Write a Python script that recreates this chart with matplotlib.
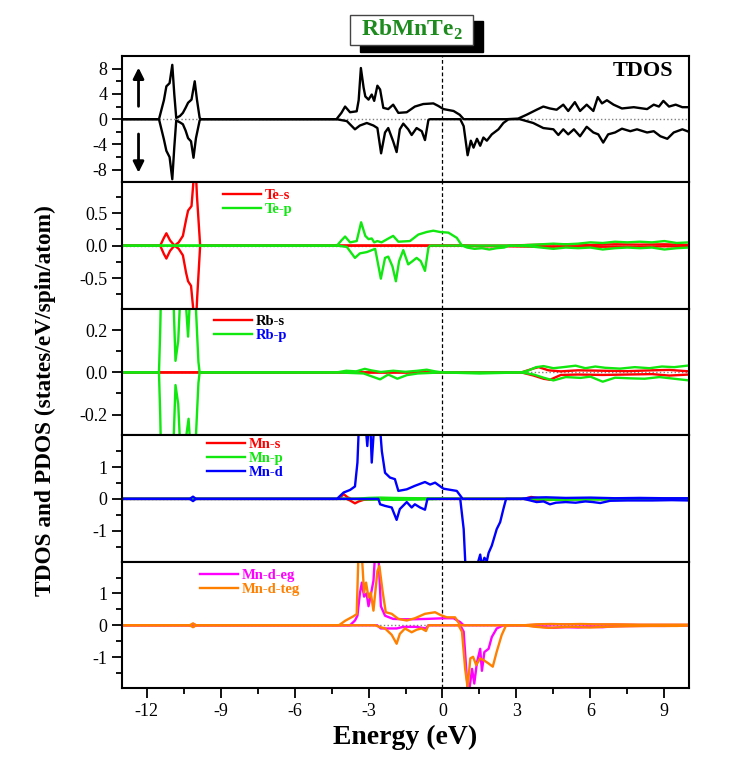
import matplotlib
matplotlib.use('Agg')
import matplotlib.pyplot as plt
from matplotlib.patches import Rectangle
from matplotlib.ticker import FormatStrFormatter

plt.rcParams['font.family'] = ['Liberation Serif', 'DejaVu Serif']
plt.rcParams['axes.unicode_minus'] = False
plt.rcParams['mathtext.fontset'] = 'custom'
plt.rcParams['mathtext.rm'] = 'Liberation Serif'
plt.rcParams['mathtext.bf'] = 'Liberation Serif:bold'

# ---- data (energy in eV, DOS in states/eV/spin/atom) ----
# TDOS
tdos_up_e = [-13, -11.5, -11.3, -11.2, -11.07, -10.96, -10.88, -10.8, -10.65, -10.53, -10.42, -10.32,
             -10.18, -10.05, -9.96, -9.85, -9.8, -4.3, -4.1, -3.95, -3.75, -3.48, -3.4, -3.31, -3.2,
             -3.13, -3.0, -2.87, -2.77, -2.64, -2.53, -2.4, -2.2, -2.0, -1.79, -1.45, -1.12, -0.78,
             -0.37, -0.17, 0.04, 0.45, 0.7, 0.86, 2.6, 3.07, 3.41, 3.82, 4.09, 4.36, 4.63, 4.9, 5.1,
             5.37, 5.58, 5.85, 6.12, 6.3, 6.47, 6.67, 6.94, 7.28, 7.76, 8.3, 8.57, 8.78, 8.96, 9.19,
             9.46, 9.73, 10.0]
tdos_up_v = [0, 0, 3.0, 5.2, 5.7, 8.6, 4.0, 0.2, 0.5, 1.0, 1.8, 2.6,
             3.1, 6.0, 3.1, 0.2, 0, 0, 1.0, 2.0, 1.1, 1.25, 3.0, 8.1, 5.0,
             3.6, 3.1, 3.9, 2.9, 5.3, 4.7, 1.8, 1.6, 2.3, 1.0, 1.1, 2.0, 2.4,
             2.5, 2.1, 1.6, 1.3, 0.7, 0, 0, 0.1, 0.7, 1.5, 2.0, 1.7, 1.5, 2.3, 1.3,
             2.7, 1.3, 2.3, 1.3, 3.5, 2.5, 3.0, 2.3, 1.7, 1.9, 1.6, 2.3, 2.0, 2.9, 2.0,
             2.3, 1.9, 1.9]
tdos_dn_e = [-13, -11.5, -11.3, -11.2, -11.07, -10.96, -10.88, -10.8, -10.65, -10.53, -10.42, -10.32,
             -10.2, -10.1, -10.0, -9.85, -9.8, -4.3, -3.88, -3.55, -3.35, -3.07, -2.8, -2.64, -2.49,
             -2.33, -2.2, -2.0, -1.86, -1.73, -1.59, -1.39, -1.25, -1.05, -0.84, -0.71, -0.57, -0.5,
             0.72, 0.86, 1.02, 1.15, 1.26, 1.4, 1.53, 1.66, 1.8, 2.0, 2.27, 2.47, 2.68, 3.14, 3.68,
             4.09, 4.5, 4.7, 4.9, 5.1, 5.33, 5.58, 5.85, 6.12, 6.32, 6.52, 6.72, 7.0, 7.28, 7.62,
             7.89, 8.3, 8.57, 8.84, 9.12, 9.38, 9.73, 10.0]
tdos_dn_v = [0, 0, -3.2, -5.0, -6.0, -9.5, -4.5, -0.2, -0.5, -0.8, -1.8, -3.0,
             -3.5, -6.1, -3.0, -0.2, 0, 0, -0.3, -1.6, -1.0, -0.6, -1.0, -1.4, -5.4,
             -2.1, -1.4, -3.5, -5.2, -1.6, -0.7, -1.6, -2.5, -1.4, -1.9, -3.3, -0.1, 0,
             0, -1.1, -5.7, -3.4, -4.5, -3.1, -4.2, -2.9, -3.4, -2.4, -1.6, -0.6, 0, 0, -0.6,
             -1.4, -1.6, -2.5, -1.6, -2.4, -1.6, -2.7, -1.2, -2.1, -2.4, -3.7, -2.4, -2.1, -1.5, -1.9,
             -1.6, -2.1, -1.9, -2.7, -3.1, -2.1, -1.6, -2.0]

# Te
te_s_up_e = [-13, -11.45, -11.3, -11.2, -11.05, -10.87, -10.7, -10.53, -10.4, -10.32, -10.18, -10.1,
             -10.03, -9.96, -9.83, 2.6, 3.5, 4.3, 5.0, 6.0, 7.0, 8.0, 9.0, 10.0]
te_s_up_v = [0, 0, 0.12, 0.19, 0.08, 0, 0.05, 0.15, 0.4, 0.54, 0.61, 1.0,
             1.35, 0.77, 0, 0, 0.01, 0.015, 0.02, 0.01, 0.02, 0.015, 0.02, 0.01]
te_s_dn_e = [-13, -11.45, -11.3, -11.2, -11.05, -10.87, -10.7, -10.53, -10.4, -10.32, -10.2, -10.08,
             -10.02, -9.95, -9.83, 0.8, 1.5, 2.4, 3.5, 4.3, 5.0, 6.0, 7.0, 8.0, 9.0, 10.0]
te_s_dn_v = [0, 0, -0.13, -0.2, -0.08, 0, -0.05, -0.15, -0.42, -0.55, -0.62, -1.1,
             -1.35, -0.8, 0, 0, -0.01, -0.01, -0.015, -0.02, -0.01, -0.02, -0.015, -0.02, -0.01, -0.015]
te_p_up_e = [-13, -4.28, -4.1, -3.95, -3.75, -3.48, -3.3, -3.13, -3.0, -2.87, -2.77, -2.64, -2.47,
             -2.24, -2.0, -1.79, -1.32, -0.98, -0.64, -0.37, -0.1, 0.24, 0.58, 0.79, 3.0, 3.5, 4.0,
             4.5, 5.0, 5.5, 6.0, 6.5, 7.0, 7.5, 8.0, 8.5, 9.0, 9.5, 10.0]
te_p_up_v = [0, 0, 0.08, 0.14, 0.05, 0.07, 0.36, 0.15, 0.1, 0.11, 0.05, 0.07, 0.05,
             0.1, 0.15, 0.06, 0.07, 0.17, 0.21, 0.23, 0.21, 0.2, 0.12, 0, 0, 0.01, 0.02,
             0.03, 0.02, 0.03, 0.05, 0.04, 0.06, 0.05, 0.06, 0.05, 0.07, 0.04, 0.05]
te_p_dn_e = [-13, -4.28, -3.88, -3.55, -3.35, -3.07, -2.73, -2.5, -2.33, -2.2, -2.03, -1.89, -1.76,
             -1.59, -1.39, -1.25, -1.05, -0.88, -0.71, -0.57, -0.5, 0.8, 1.0, 1.3, 1.6, 1.9, 2.2,
             2.5, 2.7, 3.5, 4.0, 4.5, 5.0, 5.5, 6.0, 6.5, 7.0, 7.5, 8.0, 8.5, 9.0, 9.5, 10.0]
te_p_dn_v = [0, 0, -0.02, -0.19, -0.12, -0.1, -0.05, -0.51, -0.19, -0.17, -0.32, -0.55, -0.24,
             -0.07, -0.29, -0.25, -0.19, -0.24, -0.39, -0.03, 0, 0, -0.03, -0.05, -0.04, -0.06, -0.04,
             -0.03, 0, -0.01, -0.03, -0.05, -0.03, -0.04, -0.03, -0.06, -0.04, -0.03, -0.04, -0.03,
             -0.06, -0.04, -0.03]

# Rb
rb_s_up_e = [-13, 3.2, 3.7, 3.9, 4.3, 4.8, 5.5, 6.5, 7.5, 8.5, 9.2, 10.0]
rb_s_up_v = [0, 0, 0.019, 0.025, 0.01, 0.005, 0.01, 0.008, 0.006, 0.01, 0.012, 0.005]
rb_s_dn_e = [-13, 3.2, 3.7, 4.1, 4.36, 4.8, 5.5, 6.5, 7.5, 8.5, 9.2, 10.0]
rb_s_dn_v = [0, 0, -0.015, -0.03, -0.035, -0.012, -0.01, -0.012, -0.01, -0.008, -0.015, -0.01]
rb_p_up_e = [-13, -11.5, -11.45, -11.38, -11.2, -11.0, -10.9, -10.83, -10.72, -10.6, -10.45, -10.32,
             -10.22, -10.1, -10.0, -9.9, -9.85, -4.3, -3.9, -3.5, -3.15, -2.9, -2.5, -2.0, -1.5,
             -1.0, -0.64, -0.3, 0, 3.2, 3.5, 3.8, 4.1, 4.5, 4.9, 5.4, 5.8, 6.2, 6.6, 7.2, 7.8,
             8.4, 8.9, 9.4, 10.0]
rb_p_up_v = [0, 0, 0.2, 0.6, 0.9, 0.75, 0.3, 0.055, 0.15, 0.45, 0.4, 0.17,
             0.4, 0.55, 0.3, 0.05, 0, 0, 0.008, 0.005, 0.017, 0.01, 0.002, 0.008, 0.003,
             0.008, 0.013, 0.005, 0, 0, 0.01, 0.025, 0.03, 0.02, 0.025, 0.032, 0.02, 0.028, 0.022,
             0.018, 0.025, 0.02, 0.028, 0.025, 0.033]
rb_p_dn_e = [-13, -11.5, -11.45, -11.38, -11.2, -11.0, -10.9, -10.83, -10.72, -10.6, -10.45, -10.3,
             -10.2, -10.1, -10.0, -9.9, -9.85, -4.3, -3.2, -2.53, -2.2, -1.83, -1.45, -1.0, 0,
             1.5, 3.2, 3.7, 4.1, 4.5, 5.0, 5.6, 6.0, 6.5, 7.0, 7.6, 8.2, 8.8, 9.4, 10.0]
rb_p_dn_v = [0, 0, -0.2, -0.6, -0.9, -0.75, -0.3, -0.06, -0.15, -0.45, -0.35, -0.22,
             -0.4, -0.55, -0.3, -0.05, 0, 0, -0.005, -0.033, -0.01, -0.03, -0.013, -0.005, 0,
             -0.005, 0, -0.01, -0.025, -0.038, -0.022, -0.026, -0.02, -0.044, -0.025, -0.028, -0.03,
             -0.022, -0.03, -0.038]

# Mn s, p, d
mn_s_up_e = [-13, -10.2, -10.1, -10.0, -4.2, -4.01, -3.85, -3.7, 3.3, 3.6, 3.9, 4.5, 10.0]
mn_s_up_v = [0, 0, 0.02, 0, 0, 0.15, 0.05, 0, 0, 0.06, 0.02, 0.01, 0]
mn_s_dn_e = [-13, -3.9, -3.75, -3.55, -3.4, -3.2, -2.9, -2.5, 3.3, 3.8, 4.5, 5.5, 10.0]
mn_s_dn_v = [0, 0, -0.05, -0.14, -0.08, -0.03, -0.02, 0, 0, -0.05, -0.03, -0.01, 0]
mn_p_up_e = [-13, -3.6, -3.0, -2.5, -2.0, -1.0, 0.0, 0.8, 3.5, 4.5, 6.0, 10.0]
mn_p_up_v = [0, 0, 0.03, 0.04, 0.03, 0.02, 0.01, 0, 0, 0.02, 0.02, 0.01]
mn_p_dn_e = [-13, -3.6, -3.0, -2.0, -1.0, 0.0, 3.5, 4.5, 6.0, 10.0]
mn_p_dn_v = [0, 0, -0.02, -0.03, -0.02, 0, 0, -0.03, -0.02, -0.01]
mn_d_up_e = [-13, -10.25, -10.12, -10.0, -4.28, -4.01, -3.75, -3.55, -3.45, -3.38, -3.3, -3.15,
             -3.05, -2.95, -2.87, -2.78, -2.7, -2.55, -2.46, -2.33, -2.13, -1.93, -1.79, -1.45,
             -1.12, -0.71, -0.5, -0.3, 0.04, 0.58, 0.82, 3.2, 3.6, 4.2, 5.0, 6.0, 7.0, 8.0, 9.0, 10.0]
mn_d_up_v = [0, 0, 0.07, 0, 0, 0.2, 0.28, 0.39, 1.14, 2.5, 4.0, 2.6,
             1.66, 2.8, 1.14, 2.2, 3.0, 2.4, 1.5, 0.82, 0.67, 0.62, 0.25, 0.3,
             0.41, 0.53, 0.45, 0.51, 0.32, 0.25, 0, 0, 0.04, 0.05, 0.03, 0.04, 0.02, 0.03, 0.02, 0.02]
mn_d_dn_e = [-13, -10.25, -10.12, -10.0, -2.6, -2.53, -2.33, -2.06, -1.86, -1.73, -1.45, -1.25,
             -1.12, -0.91, -0.71, -0.61, 0.72, 0.86, 0.95, 1.05, 1.15, 1.27, 1.4, 1.53, 1.6, 1.7,
             1.8, 1.87, 2.0, 2.2, 2.34, 2.47, 2.58, 3.3, 3.82, 4.1, 4.36, 4.6, 5.0, 5.4, 5.8, 6.1,
             6.4, 6.8, 7.5, 8.5, 9.3, 10.0]
mn_d_dn_v = [0, 0, -0.07, 0, 0, -0.17, -0.22, -0.27, -0.66, -0.32, -0.1, -0.27,
             -0.17, -0.27, -0.34, 0, 0, -0.95, -2.4, -2.8, -2.2, -2.6, -2.1, -1.75, -2.1, -1.85,
             -1.95, -1.7, -1.47, -0.95, -0.73, -0.32, 0, 0, -0.1, -0.08, -0.17, -0.12, -0.1, -0.12,
             -0.08, -0.1, -0.13, -0.06, -0.05, -0.05, -0.04, -0.05]

# Mn d -> eg / t2g
eg_up_e = [-13, -10.2, -10.1, -10.0, -3.75, -3.55, -3.45, -3.35, -3.27, -3.18, -3.08, -3.0, -2.92,
           -2.8, -2.72, -2.6, -2.5, -2.33, -2.0, -1.59, -1.1, -0.64, 0.04, 0.45, 0.72, 0.86, 3.3,
           4.0, 5.0, 6.0, 7.0, 8.0, 9.0, 10.0]
eg_up_v = [0, 0, 0.04, 0, 0, 0.15, 0.3, 1.0, 1.34, 0.9, 1.0, 0.6, 0.9,
           1.4, 2.4, 2.2, 0.6, 0.3, 0.2, 0.19, 0.19, 0.2, 0.22, 0.22, 0.1, 0, 0,
           0.02, 0.03, 0.02, 0.02, 0.01, 0.01, 0.01]
eg_dn_e = [-13, -10.2, -10.1, -10.0, -2.65, -2.5, -1.86, -1.59, -1.05, -0.67, -0.57, 0.72, 0.86,
           0.99, 1.06, 1.2, 1.29, 1.4, 1.53, 1.6, 1.7, 1.87, 2.0, 2.2, 2.47, 3.3, 4.0, 4.5, 5.0,
           5.5, 6.0, 6.5, 7.0, 8.0, 9.0, 10.0]
eg_dn_v = [0, 0, -0.04, 0, 0, -0.1, -0.1, -0.05, -0.05, -0.1, 0, 0, -0.2,
           -1.68, -2.2, -1.37, -1.83, -1.16, -0.74, -1.43, -0.84, -0.74, -0.37, -0.1, 0, 0, -0.05,
           -0.08, -0.06, -0.07, -0.05, -0.06, -0.03, -0.02, -0.02, -0.01]
t2g_up_e = [-13, -10.25, -10.12, -10.0, -4.2, -3.95, -3.62, -3.48, -3.41, -3.35, -3.28, -3.18,
            -3.1, -3.0, -2.91, -2.8, -2.64, -2.56, -2.43, -2.3, -2.06, -1.79, -1.45, -1.12, -0.71,
            -0.3, -0.1, 0.17, 0.51, 0.72, 3.3, 3.8, 4.4, 5.0, 5.6, 6.2, 7.0, 8.0, 9.0, 10.0]
t2g_up_v = [0, 0, 0.06, 0, 0, 0.14, 0.28, 0.35, 2.2, 3.0, 2.3, 1.03,
            1.34, 0.87, 1.03, 0.46, 1.7, 1.86, 1.07, 0.41, 0.36, 0.2, 0.15, 0.22, 0.36,
            0.41, 0.33, 0.25, 0.25, 0, 0, 0.03, 0.04, 0.03, 0.04, 0.03, 0.03, 0.02, 0.02, 0.02]
t2g_dn_e = [-13, -10.25, -10.12, -10.0, -2.73, -2.56, -2.33, -2.06, -1.86, -1.73, -1.52, -1.25,
            -1.05, -0.85, -0.67, -0.57, 0.65, 0.79, 0.92, 1.02, 1.13, 1.24, 1.37, 1.53, 1.66, 1.87,
            2.04, 2.2, 2.4, 2.58, 3.3, 3.8, 4.3, 4.8, 5.3, 6.0, 6.5, 7.5, 8.5, 9.5, 10.0]
t2g_dn_v = [0, 0, -0.06, 0, 0, -0.05, -0.1, -0.3, -0.58, -0.27, -0.1, -0.22,
            -0.14, -0.1, -0.18, 0, 0, -0.2, -1.37, -1.95, -1.04, -0.99, -1.25, -1.04, -1.09, -1.2,
            -1.3, -0.83, -0.31, 0, 0, -0.05, -0.08, -0.06, -0.05, -0.07, -0.05, -0.03, -0.02, -0.02,
            -0.01]

RED = '#FF0000'
GREEN = '#10E810'
BLUE = '#0000FF'
MAGENTA = '#FF00FF'
ORANGE = '#FF8000'

# (curves, legend text colours, ylim, major ticks, minor ticks, fmt)
panels = [
    ([(tdos_up_e, tdos_up_v, 'black', None), (tdos_dn_e, tdos_dn_v, 'black', None)],
     None, (-10, 10), [-8, -4, 0, 4, 8], [-6, -2, 2, 6], '%d'),
    ([(te_s_up_e, te_s_up_v, RED, 'Te-s'), (te_s_dn_e, te_s_dn_v, RED, None),
      (te_p_up_e, te_p_up_v, GREEN, 'Te-p'), (te_p_dn_e, te_p_dn_v, GREEN, None)],
     [RED, GREEN], (-0.975, 0.975), [-0.5, 0, 0.5], [-0.75, -0.25, 0.25, 0.75], '%.1f'),
    ([(rb_s_up_e, rb_s_up_v, RED, 'Rb-s'), (rb_s_dn_e, rb_s_dn_v, RED, None),
      (rb_p_up_e, rb_p_up_v, GREEN, 'Rb-p'), (rb_p_dn_e, rb_p_dn_v, GREEN, None)],
     ['black', BLUE], (-0.298, 0.302), [-0.2, 0, 0.2], [-0.1, 0.1], '%.1f'),
    ([(mn_s_up_e, mn_s_up_v, RED, 'Mn-s'), (mn_s_dn_e, mn_s_dn_v, RED, None),
      (mn_p_up_e, mn_p_up_v, GREEN, 'Mn-p'), (mn_p_dn_e, mn_p_dn_v, GREEN, None),
      (mn_d_up_e, mn_d_up_v, BLUE, 'Mn-d'), (mn_d_dn_e, mn_d_dn_v, BLUE, None)],
     [RED, GREEN, BLUE], (-1.97, 2.0), [-1, 0, 1], [-1.5, -0.5, 0.5, 1.5], '%d'),
    ([(eg_up_e, eg_up_v, MAGENTA, 'Mn-d-eg'), (eg_dn_e, eg_dn_v, MAGENTA, None),
      (t2g_up_e, t2g_up_v, ORANGE, 'Mn-d-teg'), (t2g_dn_e, t2g_dn_v, ORANGE, None)],
     [MAGENTA, ORANGE], (-1.97, 2.0), [-1, 0, 1], [-1.5, -0.5, 0.5, 1.5], '%d'),
]
legend_anchor = [None, (0.178, 0.95), (0.162, 0.955), (0.150, 0.98), (0.138, 0.945)]

fig = plt.figure(figsize=(7.5, 7.58), dpi=100)
W, H = 750.0, 758.0
top_px, panel_px = 56.0, 126.4

axes = []
for i, (curves, lcolors, ylim, major, minor, fmt) in enumerate(panels):
    bottom = (H - top_px - (i + 1) * panel_px) / H
    ax = fig.add_axes([122 / W, bottom, 567 / W, panel_px / H])
    axes.append(ax)

    ax.axhline(0, color='gray', ls=':', lw=1.0, zorder=1)
    ax.axvline(0, color='black', ls=(0, (3, 2)), lw=0.9, zorder=1)
    for e, v, c, lab in curves:
        ax.plot(e, v, color=c, lw=1.7, label=lab, zorder=2, solid_joinstyle='round')

    ax.set_xlim(-13, 10)
    ax.set_ylim(*ylim)
    ax.set_yticks(major)
    ax.set_yticks(minor, minor=True)
    ax.yaxis.set_major_formatter(FormatStrFormatter(fmt))
    ax.set_xticks(range(-12, 10, 3))
    ax.set_xticks([-10.5, -7.5, -4.5, -1.5, 1.5, 4.5, 7.5], minor=True)
    ax.tick_params(which='both', direction='out', top=False, right=False, labelsize=13, width=1.3)
    ax.tick_params(which='major', length=7)
    ax.tick_params(which='minor', length=4)
    if i < 4:
        ax.tick_params(which='both', bottom=False, labelbottom=False)
    for sp in ax.spines.values():
        sp.set_linewidth(1.5)

    if lcolors:
        leg = ax.legend(loc='upper left', bbox_to_anchor=legend_anchor[i], frameon=False,
                        prop={'weight': 'bold', 'size': 10.5}, handlelength=2.6,
                        handletextpad=0.25, labelspacing=0.05, borderpad=0, borderaxespad=0)
        for t, c in zip(leg.get_texts(), lcolors):
            t.set_color(c)

# spin arrows and TDOS label
ax0 = axes[0]
ax0.annotate('', xy=(-12.33, 8.6), xytext=(-12.33, 1.6),
             arrowprops=dict(arrowstyle='-|>', color='black', lw=2, mutation_scale=16))
ax0.annotate('', xy=(-12.33, -8.9), xytext=(-12.33, -1.9),
             arrowprops=dict(arrowstyle='-|>', color='black', lw=2, mutation_scale=16))
ax0.text(8.14, 7.7, 'TDOS', fontsize=16, fontweight='bold', ha='center', va='center')

axes[4].set_xlabel('Energy (eV)', fontsize=20, fontweight='bold', labelpad=4)
fig.text(45 / W, 0.472, 'TDOS and PDOS (states/eV/spin/atom)', rotation=90,
         fontsize=16.8, fontweight='bold', ha='center', va='center')

# title box with shadow
fig.patches.append(Rectangle((359.5 / W, 1 - 52.3 / H), 123.5 / W, 31.6 / H,
                             transform=fig.transFigure, facecolor='black', edgecolor='black'))
fig.patches.append(Rectangle((350 / W, 1 - 45 / H), 123.3 / W, 30.3 / H,
                             transform=fig.transFigure, facecolor='white', edgecolor='#444444', lw=1))
fig.text(411.7 / W, 1 - 30 / H, r'RbMnTe$_{\mathbf{2}}$', color='#1E8B1E', fontsize=17,
         fontweight='bold', ha='center', va='center')

fig.savefig('out.png', dpi=100)
